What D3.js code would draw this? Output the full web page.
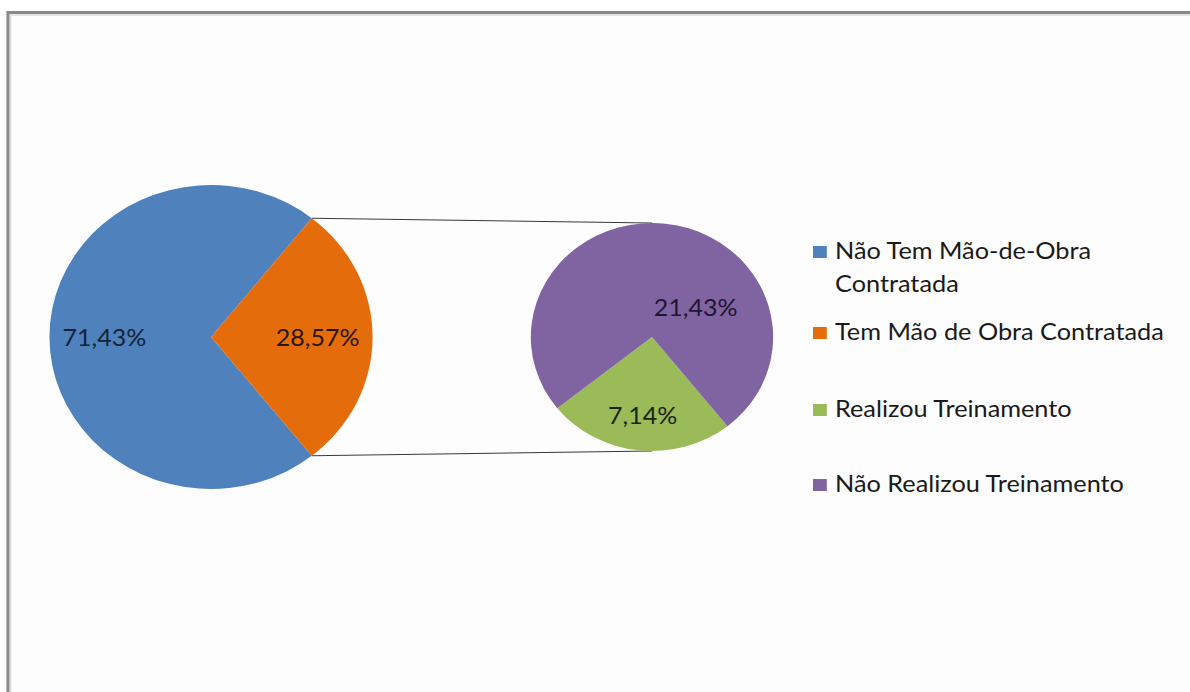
<!DOCTYPE html>
<html>
<head>
<meta charset="utf-8">
<script src="https://cdn.jsdelivr.net/npm/d3@7"></script>
<style>
  html, body { margin: 0; padding: 0; background: #ffffff; }
  svg { display: block; }
  text { font-family: Lato, "Open Sans", sans-serif; }
</style>
</head>
<body>
<svg id="chart"></svg>
<script>
// data
const mainLabels = ["Não Tem Mão-de-Obra Contratada", "Tem Mão de Obra Contratada"];
const mainValues = [71.43, 28.57];
const subLabels = ["Realizou Treinamento", "Não Realizou Treinamento"];
const subValues = [7.14, 21.43];
const colors = ["#4f81bd", "#e46c0a", "#9bbb59", "#8064a2"];

// the picture is a bit wider than tall, so the whole drawing is stretched in x
let sx = 1.063;
let width = 1190;
let height = 692;
let vbWidth = width / sx;

let svg = d3.select("#chart")
    .attr("width", width)
    .attr("height", height)
    .attr("viewBox", "0 0 " + vbWidth + " " + height)
    .attr("preserveAspectRatio", "none");

// frame
svg.append("rect")
    .attr("x", 8 / sx).attr("y", 12.5)
    .attr("width", vbWidth + 20).attr("height", height + 20)
    .attr("fill", "#fdfdfd")
    .attr("stroke", "#8a8a8a")
    .attr("stroke-width", 3);
svg.append("rect")
    .attr("x", 10.5 / sx).attr("y", 15)
    .attr("width", vbWidth + 20).attr("height", height + 20)
    .attr("fill", "none")
    .attr("stroke", "#dcdcdc")
    .attr("stroke-width", 1.5);

let c1 = { x: 211 / sx, y: 337, r: 152 };
let c2 = { x: 652 / sx, y: 337, r: 114 };

// the bar-of-pie slice sits centred at 90 degrees
let orangeShare = mainValues[1] / d3.sum(mainValues);
let startAngle = Math.PI / 2 + orangeShare * Math.PI;

let pieGen = d3.pie().sort(null).startAngle(startAngle).endAngle(startAngle + 2 * Math.PI);

let mainArcs = pieGen(mainValues);
let subArcs = pieGen(subValues);

let arc1 = d3.arc().innerRadius(0).outerRadius(c1.r);
let arc2 = d3.arc().innerRadius(0).outerRadius(c2.r);

const fmt = (v) => v.toFixed(2).replace(".", ",") + "%";

// connector lines
const pt = (c, a) => [c.x + c.r * Math.sin(a), c.y - c.r * Math.cos(a)];
let oa = mainArcs[1];
let p1 = pt(c1, oa.startAngle);
let p2 = pt(c1, oa.endAngle);
svg.append("line")
    .attr("x1", p1[0]).attr("y1", p1[1])
    .attr("x2", c2.x).attr("y2", c2.y - c2.r)
    .attr("stroke", "#3a3a3a").attr("stroke-width", 1);
svg.append("line")
    .attr("x1", p2[0]).attr("y1", p2[1])
    .attr("x2", c2.x).attr("y2", c2.y + c2.r)
    .attr("stroke", "#3a3a3a").attr("stroke-width", 1);

// main pie
let g1 = svg.append("g").attr("transform", "translate(" + c1.x + "," + c1.y + ")");
g1.selectAll("path")
    .data(mainArcs)
    .enter()
    .append("path")
    .attr("d", arc1)
    .attr("fill", (d, i) => colors[i]);

let labelArc1 = d3.arc().innerRadius(c1.r * 0.66).outerRadius(c1.r * 0.66);
g1.selectAll("text")
    .data(mainArcs)
    .enter()
    .append("text")
    .attr("x", (d) => labelArc1.centroid(d)[0])
    .attr("y", (d) => labelArc1.centroid(d)[1] + 9)
    .attr("text-anchor", "middle")
    .attr("font-size", 23.5)
    .attr("fill", (d, i) => i == 0 ? "#13233a" : "#2a1608")
    .text((d) => fmt(d.data));

// second pie
let g2 = svg.append("g").attr("transform", "translate(" + c2.x + "," + c2.y + ")");
g2.selectAll("path")
    .data(subArcs)
    .enter()
    .append("path")
    .attr("d", arc2)
    .attr("fill", (d, i) => colors[i + 2]);

let labelArc2 = d3.arc().innerRadius(c2.r * 0.69).outerRadius(c2.r * 0.69);
g2.selectAll("text")
    .data(subArcs)
    .enter()
    .append("text")
    .attr("x", (d, i) => i == 0 ? labelArc2.centroid(d)[0] : 41)
    .attr("y", (d, i) => (i == 0 ? labelArc2.centroid(d)[1] : -30.5) + 9)
    .attr("text-anchor", "middle")
    .attr("font-size", 23.5)
    .attr("fill", (d, i) => i == 0 ? "#1c2410" : "#1f1530")
    .text((d) => fmt(d.data));

// legend
let legendItems = [
    { lines: ["Não Tem Mão-de-Obra", "Contratada"], color: colors[0], y: 259 },
    { lines: [mainLabels[1]], color: colors[1], y: 340 },
    { lines: [subLabels[0]], color: colors[2], y: 417 },
    { lines: [subLabels[1]], color: colors[3], y: 492 }
];

let legend = svg.append("g");
legendItems.forEach((item) => {
    legend.append("rect")
        .attr("x", 813 / sx)
        .attr("y", item.y - 13)
        .attr("width", 13)
        .attr("height", 12)
        .attr("fill", item.color);
    let t = legend.append("text")
        .attr("x", 835 / sx)
        .attr("y", item.y)
        .attr("font-size", 23.8)
        .attr("fill", "#1a1a1a");
    item.lines.forEach((line, j) => {
        t.append("tspan")
            .attr("x", 835 / sx)
            .attr("dy", j == 0 ? 0 : 33)
            .text(line);
    });
});
</script>
</body>
</html>
